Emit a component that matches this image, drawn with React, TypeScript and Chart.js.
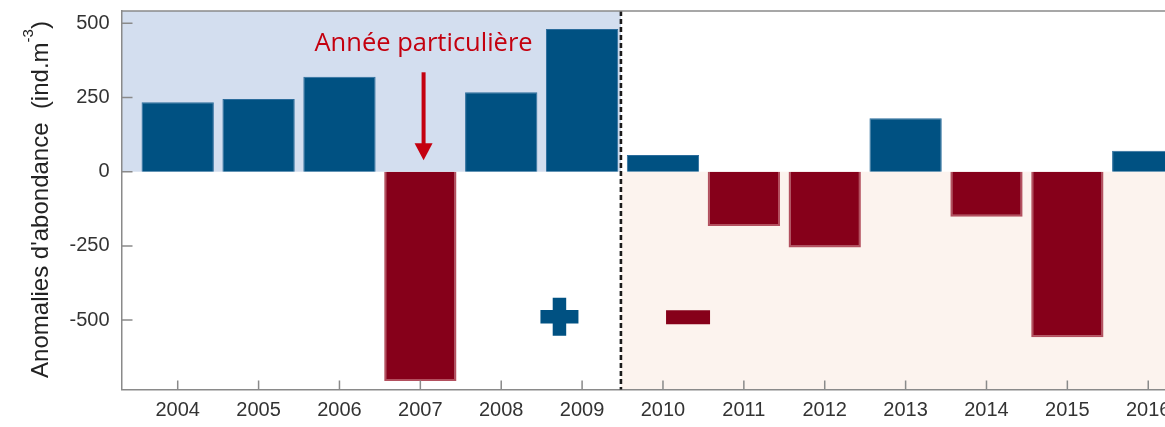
import React, { useEffect, useRef } from "react";
import { Chart, registerables } from "chart.js";

Chart.register(...registerables);

// ---- Data ----
const years = [2004, 2005, 2006, 2007, 2008, 2009, 2010, 2011, 2012, 2013, 2014, 2015, 2016];
const anomalies = [234, 245, 320, -705, 268, 481, 56, -183, -255, 180, -152, -558, 71];
const yTickValues = [-500, -250, 0, 250, 500];
const plusMarker = [{ x: 2008.72, y: -489 }];
const minusMarker = [{ x: 2010.31, y: -490 }];
const breakPosition = 2009.48;
const calloutText = "Année particulière";
const calloutX = 2007.04;
const calloutTextY = 408;
const arrowStartY = 335;
const arrowEndY = 39;
const yTitleMain = "Anomalies d'abondance  (ind.m";
const yTitleSup = "-3";
const yTitleEnd = ")";

// ---- Styles ----
const BLUE = "#005182";
const RED = "#86001a";
const AXIS = "#8a8a8a";
const CANVAS_W = 1260;
const CANVAS_H = 427;

const decorPlugin = {
  id: "decor",
  beforeDraw(chart: any) {
    const { ctx, chartArea, scales } = chart;
    const x = scales.x;
    const y = scales.y;
    const xb = x.getPixelForValue(breakPosition);
    const y0 = y.getPixelForValue(0);
    ctx.save();
    ctx.fillStyle = "#d3deef";
    ctx.fillRect(chartArea.left, chartArea.top, xb - chartArea.left, y0 - chartArea.top);
    ctx.fillStyle = "#fcf3ee";
    ctx.fillRect(xb, y0, chartArea.right - xb, chartArea.bottom - y0);
    ctx.restore();
  },
  afterDatasetsDraw(chart: any) {
    const { ctx, chartArea, scales } = chart;
    const x = scales.x;
    const y = scales.y;
    const xb = x.getPixelForValue(breakPosition);
    ctx.save();
    // dashed separator
    ctx.strokeStyle = "#1a1a1a";
    ctx.lineWidth = 2.6;
    ctx.setLineDash([5, 3]);
    ctx.beginPath();
    ctx.moveTo(xb, chartArea.top);
    ctx.lineTo(xb, chartArea.bottom);
    ctx.stroke();
    ctx.setLineDash([]);
    // callout
    const cx = x.getPixelForValue(calloutX);
    ctx.fillStyle = "#c4000f";
    ctx.strokeStyle = "#c4000f";
    ctx.font = '25.5px "Open Sans", "Liberation Sans", sans-serif';
    ctx.textAlign = "center";
    ctx.textBaseline = "alphabetic";
    ctx.fillText(calloutText, cx, y.getPixelForValue(calloutTextY));
    const ya = y.getPixelForValue(arrowStartY);
    const yb = y.getPixelForValue(arrowEndY);
    ctx.lineWidth = 4;
    ctx.beginPath();
    ctx.moveTo(cx, ya);
    ctx.lineTo(cx, yb - 14);
    ctx.stroke();
    ctx.beginPath();
    ctx.moveTo(cx - 9, yb - 17);
    ctx.lineTo(cx + 9, yb - 17);
    ctx.lineTo(cx, yb);
    ctx.closePath();
    ctx.fill();
    ctx.restore();
  },
  afterDraw(chart: any) {
    const { ctx, chartArea, scales } = chart;
    const x = scales.x;
    const y = scales.y;
    ctx.save();
    ctx.strokeStyle = AXIS;
    ctx.lineWidth = 1.5;
    // top frame line
    ctx.beginPath();
    ctx.moveTo(chartArea.left, chartArea.top);
    ctx.lineTo(chart.width, chartArea.top);
    ctx.stroke();
    // inward tick marks
    ctx.beginPath();
    y.ticks.forEach((t: any) => {
      const py = y.getPixelForValue(t.value);
      ctx.moveTo(chartArea.left, py);
      ctx.lineTo(chartArea.left + 11, py);
    });
    x.ticks.forEach((t: any) => {
      const px = x.getPixelForValue(t.value);
      ctx.moveTo(px, chartArea.bottom);
      ctx.lineTo(px, chartArea.bottom - 9);
    });
    ctx.stroke();
    // y-axis title with superscript
    ctx.translate(48, 199.5);
    ctx.rotate(-Math.PI / 2);
    ctx.fillStyle = "#222";
    ctx.textBaseline = "alphabetic";
    ctx.textAlign = "left";
    const mainFont = '24px "Liberation Sans", Arial, sans-serif';
    const supFont = '15px "Liberation Sans", Arial, sans-serif';
    ctx.font = mainFont;
    const w1 = ctx.measureText(yTitleMain).width;
    const wc = ctx.measureText(yTitleEnd).width;
    ctx.font = supFont;
    const ws = ctx.measureText(yTitleSup).width;
    const total = w1 + ws + wc;
    const start = -total / 2;
    ctx.font = mainFont;
    ctx.fillText(yTitleMain, start, 0);
    ctx.font = supFont;
    ctx.fillText(yTitleSup, start + w1, -15);
    ctx.font = mainFont;
    ctx.fillText(yTitleEnd, start + w1 + ws, 0);
    ctx.restore();
  },
};

export default function App() {
  const ref = useRef<HTMLCanvasElement | null>(null);

  useEffect(() => {
    if (!ref.current) return;
    const chart = new Chart(ref.current, {
      type: "bar",
      data: {
        datasets: [
          {
            type: "bar",
            data: years.map((yr, i) => ({ x: yr, y: anomalies[i] })),
            backgroundColor: (c: any) => ((c.raw && c.raw.y >= 0) ? BLUE : RED),
            borderColor: (c: any) => ((c.raw && c.raw.y >= 0) ? "#2b6c9c" : "#b3505f"),
            borderWidth: (c: any) => ((c.raw && c.raw.y >= 0) ? 1 : 2),
            barPercentage: 0.894,
            categoryPercentage: 1,
          } as any,
          {
            type: "scatter",
            data: plusMarker,
            pointStyle: "cross",
            radius: 19,
            borderWidth: 13.5,
            borderColor: BLUE,
            backgroundColor: BLUE,
          } as any,
          {
            type: "scatter",
            data: minusMarker,
            pointStyle: "line",
            radius: 22,
            borderWidth: 14,
            borderColor: RED,
            backgroundColor: RED,
          } as any,
        ],
      },
      options: {
        responsive: false,
        animation: false,
        events: [],
        layout: { autoPadding: false, padding: { top: 11, right: 38, left: 0, bottom: 0 } },
        plugins: {
          legend: { display: false },
          tooltip: { enabled: false },
          title: { display: false },
        },
        scales: {
          x: {
            type: "linear",
            min: 2003.305,
            max: 2016.912,
            offset: false,
            afterBuildTicks: (s: any) => {
              s.ticks = years.map((v) => ({ value: v }));
            },
            afterFit: (s: any) => {
              s.height = 37.5;
              s.paddingLeft = 0;
              s.paddingRight = 0;
              s.paddingTop = 0;
              s.paddingBottom = 0;
            },
            grid: { display: false, drawTicks: false, offset: false },
            border: { display: true, color: AXIS, width: 1.5 },
            ticks: {
              autoSkip: false,
              maxRotation: 0,
              padding: 9,
              color: "#333",
              font: { family: '"Liberation Sans", Arial, sans-serif', size: 20 },
              callback: (v: any) => String(v),
            },
          },
          y: {
            type: "linear",
            min: -733.8,
            max: 541.5,
            afterBuildTicks: (s: any) => {
              s.ticks = yTickValues.map((v) => ({ value: v }));
            },
            afterFit: (s: any) => {
              s.width = 121.5;
              s.paddingLeft = 0;
              s.paddingRight = 0;
              s.paddingTop = 0;
              s.paddingBottom = 0;
            },
            grid: { display: false, drawTicks: false },
            border: { display: true, color: AXIS, width: 1.5 },
            ticks: {
              padding: 12,
              color: "#333",
              font: { family: '"Liberation Sans", Arial, sans-serif', size: 20 },
              callback: (v: any) => String(v),
            },
          },
        },
      } as any,
      plugins: [decorPlugin],
    });
    return () => chart.destroy();
  }, []);

  return (
    <div
      style={{
        position: "fixed",
        left: 0,
        top: 0,
        width: 1165,
        height: 427,
        overflow: "hidden",
        background: "#fff",
      }}
    >
      <canvas ref={ref} width={CANVAS_W} height={CANVAS_H} style={{ width: CANVAS_W, height: CANVAS_H, display: "block" }} />
    </div>
  );
}
